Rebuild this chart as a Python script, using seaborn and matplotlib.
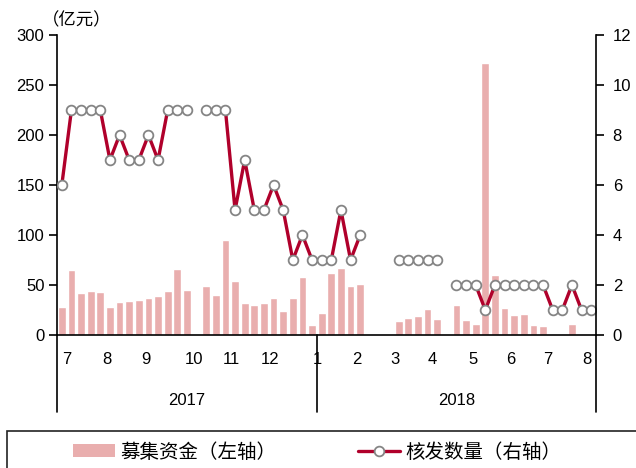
import pandas as pd
import numpy as np
import matplotlib.pyplot as plt
import seaborn as sns
from matplotlib.patches import Patch, Rectangle
from matplotlib.lines import Line2D

nan = np.nan

# weekly data, Jul 2017 - Aug 2018
fund = [28, 65, 42, 44, 43, 28, 33, 34, 35, 37, 39, 44, 66, 45, nan,
        49, 40, 95, 54, 32, 30, 32, 37, 24, 37, 58, 10,
        22, 62, 67, 49, 51, nan, nan, nan, 14, 17, 19, 26, 16, nan,
        30, 15, 11, 272, 60, 27, 20, 21, 10, 9, nan, nan, 11, nan, nan]
count = [6, 9, 9, 9, 9, 7, 8, 7, 7, 8, 7, 9, 9, 9, nan,
         9, 9, 9, 5, 7, 5, 5, 6, 5, 3, 4, 3,
         3, 3, 5, 3, 4, nan, nan, nan, 3, 3, 3, 3, 3, nan,
         2, 2, 2, 1, 2, 2, 2, 2, 2, 2, 1, 1, 2, 1, 1]
month_labels = ['7', '8', '9', '10', '11', '12', '1', '2', '3', '4', '5', '6', '7', '8']
month_pos = [0.54, 4.68, 8.73, 13.7, 17.65, 21.6, 26.57, 30.6, 34.6, 38.5, 42.7, 46.6, 50.5, 54.6]
years = ['2017', '2018']
year_edges = [-0.5, 26.5, 55.5]

df = pd.DataFrame({'pos': np.arange(len(fund)), 'fund': fund, 'count': count})
df['seg'] = df['count'].isna().cumsum()
line_df = df.dropna(subset=['count'])

sns.set_style('ticks')
plt.rcParams['font.family'] = ['Liberation Sans', 'Noto Sans CJK SC']
for k in ('text.color', 'xtick.color', 'ytick.color', 'axes.labelcolor'):
    plt.rcParams[k] = 'black'
cjk = ['Noto Sans CJK SC', 'DejaVu Sans']

bar_color = '#E9AEAE'
line_color = '#B0002B'

fig = plt.figure(figsize=(6.36, 4.68), dpi=100)
ax = fig.add_axes([57 / 636, 133 / 468, 539 / 636, 300 / 468])

sns.barplot(data=df.dropna(subset=['fund']), x='pos', y='fund', native_scale=True,
            color=bar_color, width=0.8, saturation=1, ax=ax)
ax.set_xlim(-0.5, 55.5)
ax.set_ylim(0, 300)
ax.set_yticks(range(0, 301, 50))
ax.set_xlabel('')
ax.set_ylabel('')

ax2 = ax.twinx()
sns.lineplot(data=line_df, x='pos', y='count', units='seg', estimator=None,
             color=line_color, lw=2.4, marker='o', markersize=7,
             markerfacecolor='white', markeredgecolor='#858585',
             markeredgewidth=1.3, legend=False, ax=ax2)
ax2.set_ylim(0, 12)
ax2.set_yticks(range(0, 13, 2))
ax2.set_ylabel('')
ax2.set_xlim(-0.5, 55.5)

for a in (ax, ax2):
    a.spines['top'].set_visible(False)
    for s in a.spines.values():
        s.set_color('black')
        s.set_linewidth(1.2)
ax.spines['right'].set_visible(False)
ax2.spines['left'].set_visible(False)
ax2.spines['bottom'].set_visible(False)

ax.tick_params(axis='y', direction='out', length=6, width=1.2, labelsize=12, pad=3)
ax2.tick_params(axis='y', direction='out', length=6, width=1.2, labelsize=12, pad=6)
ax.set_xticks(month_pos, month_labels)
ax.tick_params(axis='x', length=0, labelsize=12, pad=12)
ax2.tick_params(axis='x', length=0, labelbottom=False)

tr = ax.get_xaxis_transform()
for xe in year_edges:
    ax.plot([xe, xe], [0, -0.257], transform=tr, color='black', lw=1.2, clip_on=False)
for i, y in enumerate(years):
    ax.text((year_edges[i] + year_edges[i + 1]) / 2, -0.217, y, transform=tr,
            ha='center', va='center', fontsize=12)

fig.text(77 / 636, 1 - 20 / 468, '（亿元）', family=cjk, fontsize=12.5, ha='center', va='center')

fig.patches.append(Rectangle((7 / 636, -0.1), 1.0, (468 - 431) / 468 + 0.1,
                             transform=fig.transFigure, fill=False,
                             edgecolor='#222222', lw=1.2))
handles = [Patch(facecolor=bar_color, edgecolor='none'),
           Line2D([], [], color=line_color, lw=2.4, marker='o', markersize=7,
                  markerfacecolor='white', markeredgecolor='#858585', markeredgewidth=1.3)]
leg = fig.legend(handles, ['募集资金（左轴）', '核发数量（右轴）'], ncol=2, frameon=False,
                 loc='center', bbox_to_anchor=(0.499, 1 - 452 / 468),
                 prop={'family': cjk, 'size': 14}, handlelength=2.15, handleheight=0.6,
                 handletextpad=0.3, columnspacing=4.2)

fig.savefig('out.png', dpi=100)
